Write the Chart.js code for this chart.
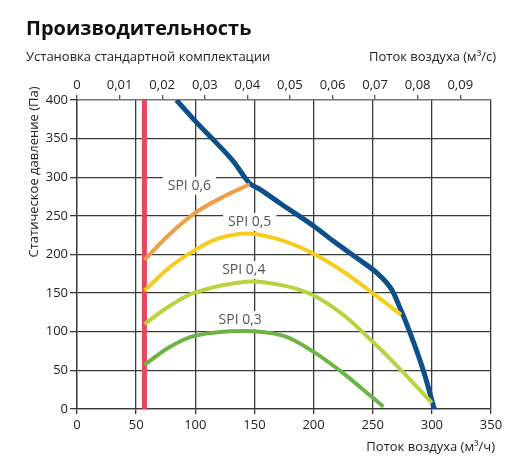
<!DOCTYPE html>
<html>
<head>
<meta charset="utf-8">
<script src="https://cdn.jsdelivr.net/npm/chart.js@4/dist/chart.umd.min.js"></script>
<style>
  html, body { margin: 0; padding: 0; background: #fff; }
  #wrap { position: relative; width: 514px; height: 472px; }
</style>
</head>
<body>
<div id="wrap"><canvas id="perfChart" width="514" height="472"></canvas></div>
<script>
// Данные кривых (поток м3/ч, давление Па)
const fanFlow = [84, 101, 115, 132, 146, 155, 172, 200, 217, 236, 253, 265, 273, 282, 293, 302];
const fanPressure = [400, 371, 349, 321, 292, 284, 266, 237, 217, 196, 177, 157, 131, 97, 49, 0];

const spi06Flow = [57, 78, 100, 124, 146];
const spi06Pressure = [193, 226, 254, 275, 291];

const spi05Flow = [57, 78, 100, 120, 146, 174, 200, 225, 250, 274];
const spi05Pressure = [153, 183, 206, 221, 227, 218, 201, 178, 150, 122];

const spi04Flow = [57, 78, 100, 145, 174, 200, 225, 250, 273, 300];
const spi04Pressure = [110, 133, 151, 165, 160, 147, 122, 87, 52, 8];

const spi03Flow = [57, 78, 100, 140, 174, 200, 222, 242, 259];
const spi03Pressure = [57, 80, 95, 101, 95, 74, 50, 25, 3];

const limitFlow = [57, 57];
const limitPressure = [0, 400];

// Подписи осей
const flowTicks = [0, 50, 100, 150, 200, 250, 300, 350];
const pressureTicks = [0, 50, 100, 150, 200, 250, 300, 350, 400];
const flowM3sTicks = [0, 0.01, 0.02, 0.03, 0.04, 0.05, 0.06, 0.07, 0.08, 0.09];

const spiNames = ['SPI 0,6', 'SPI 0,5', 'SPI 0,4', 'SPI 0,3'];

function pts(xs, ys) {
    return xs.map((x, i) => ({ x: x, y: ys[i] }));
}

const FONT = '"Open Sans", "Noto Sans", sans-serif';

// Подписи SPI и тексты вокруг графика
const spiAnchors = [[95, 289], [146, 242], [141, 180], [138, 115]];

const textPlugin = {
    id: 'texts',
    beforeDatasetsDraw(chart) {
        const ctx = chart.ctx;
        const xs = chart.scales.x, ys = chart.scales.y;
        ctx.save();
        ctx.font = '14px ' + FONT;
        ctx.textAlign = 'center';
        ctx.textBaseline = 'middle';
        spiNames.forEach((name, i) => {
            const px = xs.getPixelForValue(spiAnchors[i][0]);
            const py = ys.getPixelForValue(spiAnchors[i][1]);
            const w = ctx.measureText(name).width;
            ctx.fillStyle = '#fff';
            ctx.fillRect(px - w / 2 - 5, py - 9, w + 10, 18);
            ctx.fillStyle = '#555';
            ctx.fillText(name, px, py);
        });
        ctx.restore();
    },
    afterDraw(chart) {
        const ctx = chart.ctx;
        ctx.save();
        ctx.fillStyle = '#111';
        ctx.textBaseline = 'alphabetic';
        ctx.textAlign = 'left';
        ctx.font = 'bold 20px ' + FONT;
        ctx.fillText('Производительность', 26, 35);
        ctx.font = '13px ' + FONT;
        ctx.fillStyle = '#222';
        ctx.fillText('Установка стандартной комплектации', 26, 61);
        ctx.textAlign = 'right';
        ctx.fillText('Поток воздуха (м³/с)', 496, 61);
        ctx.fillText('Поток воздуха (м³/ч)', 495, 451);
        ctx.translate(38, 172);
        ctx.rotate(-Math.PI / 2);
        ctx.textAlign = 'center';
        ctx.fillText('Статическое давление (Па)', 0, 0);
        ctx.restore();
    }
};

function line(data, color, width) {
    return {
        data: data,
        borderColor: color,
        borderWidth: width,
        pointRadius: 0,
        fill: false,
        showLine: true,
        tension: 0.35
    };
}

const gridColor = '#3a3a3a';

new Chart(document.getElementById('perfChart'), {
    type: 'scatter',
    data: {
        datasets: [
            line(pts(spi03Flow, spi03Pressure), '#6db446', 4),
            line(pts(spi04Flow, spi04Pressure), '#b6d43f', 4),
            line(pts(spi05Flow, spi05Pressure), '#f6cd1f', 4),
            line(pts(spi06Flow, spi06Pressure), '#ef9f48', 4),
            line(pts(fanFlow, fanPressure), '#0c4f8b', 5),
            Object.assign(line(pts(limitFlow, limitPressure), '#e4485f', 5), { tension: 0 })
        ]
    },
    options: {
        responsive: false,
        animation: false,
        layout: { padding: { left: 0, right: 23, top: 0, bottom: 33 } },
        plugins: {
            legend: { display: false },
            tooltip: { enabled: false }
        },
        scales: {
            x: {
                type: 'linear',
                position: 'bottom',
                min: 0,
                max: 350,
                afterFit(s) { s.height = 30; },
                afterBuildTicks(s) { s.ticks = flowTicks.map(v => ({ value: v })); },
                grid: { color: gridColor, lineWidth: 1.3, tickLength: 5 },
                border: { color: gridColor, width: 1.3 },
                ticks: { color: '#222', font: { family: FONT, size: 13 }, padding: 3, maxRotation: 0 }
            },
            x2: {
                type: 'linear',
                position: 'top',
                min: 0,
                max: 350 / 3600,
                afterFit(s) { s.height = 100; },
                afterBuildTicks(s) { s.ticks = flowM3sTicks.map(v => ({ value: v })); },
                grid: { drawOnChartArea: false, color: '#555', lineWidth: 1.3, tickLength: 5 },
                border: { color: '#777', width: 1.3 },
                ticks: {
                    color: '#222',
                    font: { family: FONT, size: 13 },
                    padding: 2,
                    maxRotation: 0,
                    callback: v => v === 0 ? '0' : v.toFixed(2).replace('.', ',')
                }
            },
            y: {
                type: 'linear',
                min: 0,
                max: 400,
                afterFit(s) { s.width = 77; },
                afterBuildTicks(s) { s.ticks = pressureTicks.map(v => ({ value: v })); },
                grid: { color: gridColor, lineWidth: 1.3, tickLength: 7 },
                border: { color: gridColor, width: 1.3 },
                ticks: { color: '#222', font: { family: FONT, size: 13 }, padding: 2 }
            }
        }
    },
    plugins: [textPlugin]
});
</script>
</body>
</html>
